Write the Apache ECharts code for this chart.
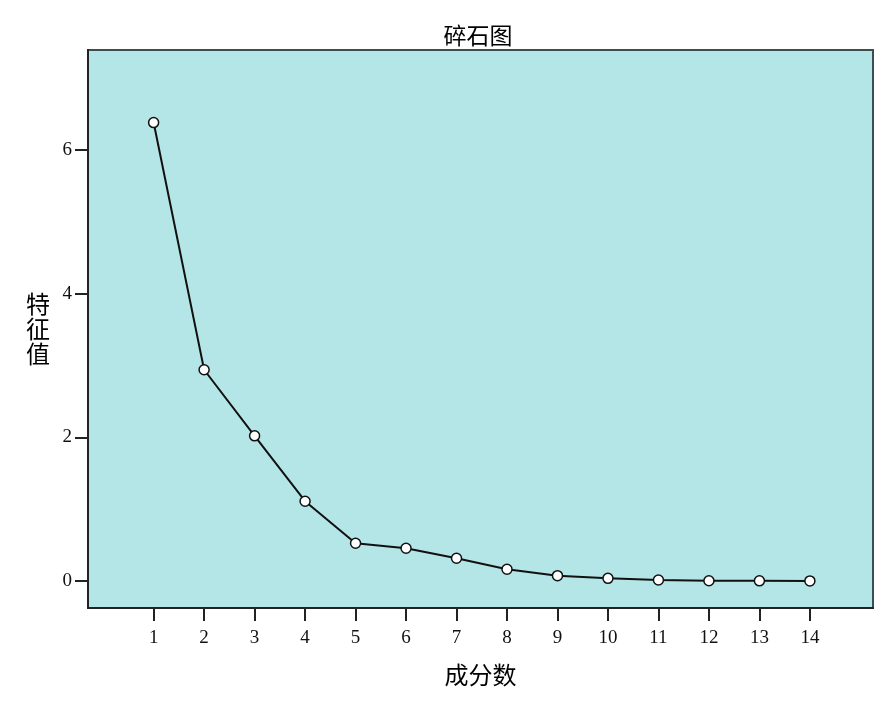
<!DOCTYPE html>
<html>
<head>
<meta charset="utf-8">
<script src="https://cdn.jsdelivr.net/npm/echarts@6/dist/echarts.min.js"></script>
<style>html,body{margin:0;padding:0;background:#fff;}#c{width:886px;height:710px;}</style>
</head>
<body>
<div id="c"></div>
<script>
var components = [1,2,3,4,5,6,7,8,9,10,11,12,13,14];
var eigenvalues = [6.38,2.94,2.02,1.11,0.525,0.455,0.316,0.163,0.074,0.037,0.014,0.004,0.002,0.001];
var xTicks = [1,2,3,4,5,6,7,8,9,10,11,12,13,14];
var yTicks = [0,2,4,6];

var chart = echarts.init(document.getElementById('c'));
var serif = '"Liberation Serif", "Noto Sans CJK SC", serif';
var cjk = '"Noto Sans CJK SC", sans-serif';
chart.setOption({
  animation: false,
  backgroundColor: '#ffffff',
  title: {
    text: '碎石图',
    left: 473, top: 19, textAlign: 'center',
    textStyle: {fontFamily: cjk, fontSize: 23, fontWeight: 'normal', color: '#000'}
  },
  grid: {
    left: 88, right: 13, top: 50, bottom: 102,
    show: true, backgroundColor: '#b4e6e7', borderColor: '#3a4f50', borderWidth: 2
  },
  xAxis: {
    type: 'value', min: -0.3, max: 15.25,
    name: '成分数', nameLocation: 'middle', nameGap: 55,
    nameTextStyle: {fontFamily: cjk, fontSize: 24, color: '#000'},
    axisLine: {show: true, onZero: false, lineStyle: {color: '#222', width: 2}},
    axisTick: {show: true, customValues: xTicks, length: 13, lineStyle: {color: '#222', width: 2}},
    axisLabel: {customValues: xTicks, margin: 21, fontFamily: serif, fontSize: 19, color: '#111'},
    splitLine: {show: false}
  },
  yAxis: {
    type: 'value', min: -0.376, max: 7.39,
    name: '特\n征\n值', nameLocation: 'middle', nameRotate: 0, nameGap: 38,
    nameTextStyle: {fontFamily: cjk, fontSize: 24, lineHeight: 25, color: '#000'},
    axisLine: {show: true, onZero: false, lineStyle: {color: '#222', width: 2}},
    axisTick: {show: true, customValues: yTicks, length: 13, lineStyle: {color: '#222', width: 2}},
    axisLabel: {customValues: yTicks, margin: 16, fontFamily: serif, fontSize: 19, color: '#111'},
    splitLine: {show: false}
  },
  series: [{
    type: 'line',
    data: components.map(function(c, i){ return [c, eigenvalues[i]]; }),
    symbol: 'circle', symbolSize: 10,
    lineStyle: {color: '#111', width: 2},
    itemStyle: {color: '#ffffff', borderColor: '#111', borderWidth: 1.5},
    z: 3
  }]
});
</script>
</body>
</html>
